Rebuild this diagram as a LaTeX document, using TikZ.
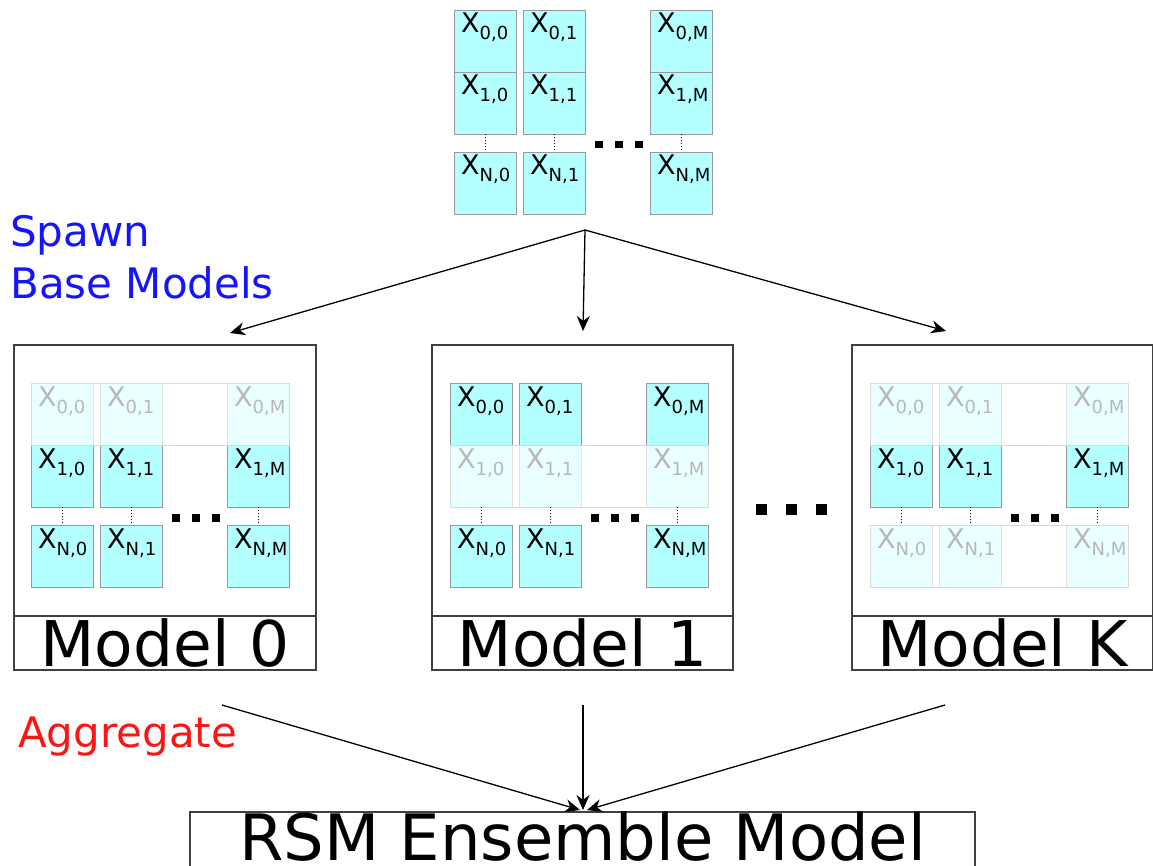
\documentclass[tikz,border=0pt]{standalone}
\usepackage{fontspec}
\setmainfont{DejaVu Sans}
\usetikzlibrary{arrows.meta}
\definecolor{cellfill}{RGB}{180,255,255}
\definecolor{spawnblue}{RGB}{20,20,255}
\definecolor{aggred}{RGB}{255,20,20}
\newcommand{\sbs}[1]{\raisebox{-7pt}{\fontsize{18}{18}\selectfont #1}}
\tikzset{
  cellbox/.style={rectangle, draw=gray!80, line width=0.9pt, fill=cellfill, inner sep=0pt, minimum width=62pt, minimum height=62pt},
  celltext/.style={inner sep=0pt, anchor=base west, font=\fontsize{27}{27}\selectfont},
  modelbox/.style={rectangle, draw=black!75, line width=1.6pt, inner sep=0pt},
  labelbox/.style={rectangle, draw=black!75, line width=1.6pt, inner sep=0pt, font=\fontsize{63}{63}\selectfont},
  arr/.style={-{Stealth[length=15pt,width=13pt]}, line width=1.3pt},
  fadeband/.style={fill=white, fill opacity=0.72, draw=gray!30, line width=0.8pt},
  dotsq/.style={fill=black},
}
\newcommand{\cellgrid}[3]{%
  \foreach \c/\cx in {0/0,1/69,M/196}{
    \foreach \r/\ry in {0/0,1/62,N/142}{
      \node[cellbox] (#1-\r-\c) at (#2+\cx+31, #3+\ry+31) {};
      \node[celltext] (#1-\r-\c-t) at (#2+\cx+7, #3+\ry+23) {X\sbs{\r,\c}};
    }
  }
}
\newcommand{\griddots}[3]{%
  \foreach \c in {0,1,M}{
    \draw[dotted, line width=1pt] (#1-1-\c.south) -- (#1-N-\c.north);
  }
  \foreach \k in {0,1,2}{
    \fill[dotsq] (#2+141+20*\k, #3+131) rectangle ++(7.5,7.5);
  }
}
\newcommand{\fadedrow}[2]{%
  \path[fadeband] (#1, #2) rectangle (#1+258, #2+62);
}
\begin{document}
\begin{tikzpicture}[x=1pt,y=-1pt]
\useasboundingbox (0,0) rectangle (1153,866);

% top data grid
\cellgrid{top}{454}{10}
\griddots{top}{454}{10}

% labels
\node[anchor=base west, inner sep=0pt, text=spawnblue, font=\fontsize{42}{42}\selectfont] (spawn1) at (10,247) {Spawn};
\node[anchor=base west, inner sep=0pt, text=spawnblue, font=\fontsize{42}{42}\selectfont] (spawn2) at (10,299) {Base Models};
\node[anchor=base west, inner sep=0pt, text=aggred, font=\fontsize{42}{42}\selectfont] (agg) at (18,747) {Aggregate};

% model boxes
\node[modelbox, minimum width=302pt, minimum height=271pt] (m0) at (165,480.5) {};
\node[labelbox, minimum width=302pt, minimum height=54pt] (m0l) at (165,643) {Model 0};
\node[modelbox, minimum width=301pt, minimum height=271pt] (m1) at (582.5,480.5) {};
\node[labelbox, minimum width=301pt, minimum height=54pt] (m1l) at (582.5,643) {Model 1};
\node[modelbox, minimum width=301pt, minimum height=271pt] (mK) at (1002.5,480.5) {};
\node[labelbox, minimum width=301pt, minimum height=54pt] (mKl) at (1002.5,643) {Model K};

% model 0 grid: row 0 faded
\cellgrid{a}{31}{383}
\fadedrow{31}{383}
\griddots{a}{31}{383}

% model 1 grid: row 1 faded
\cellgrid{b}{450}{383}
\fadedrow{450}{445}
\griddots{b}{450}{383}

% model K grid: rows 0 and N faded
\cellgrid{c}{870}{383}
\fadedrow{870}{383}
\fadedrow{870}{525}
\griddots{c}{870}{383}

% big dots between models
\foreach \k in {0,1,2}{
  \fill[dotsq] (756+30*\k, 504) rectangle ++(11,11);
}

% ensemble box
\draw[draw=black!75, line width=1.6pt] (190,812) rectangle (975,880);
\node[anchor=base, inner sep=0pt, font=\fontsize{64}{64}\selectfont] (rsm) at (582.5,860) {RSM Ensemble Model};

% spawn arrows
\coordinate (src) at (585,230);
\coordinate (t0) at (230,333);
\coordinate (t1) at (583,331);
\coordinate (tK) at (946,331);
\draw[arr] (src) -- (t0);
\draw[arr] (src) -- (t1);
\draw[arr] (src) -- (tK);

% aggregate arrows
\coordinate (s0) at (222,705);
\coordinate (s1) at (583,705);
\coordinate (sK) at (945,705);
\coordinate (e0) at (580,810);
\coordinate (e1) at (583,810);
\coordinate (eK) at (587,810);
\draw[arr] (s0) -- (e0);
\draw[arr] (s1) -- (e1);
\draw[arr] (sK) -- (eK);
\end{tikzpicture}
\end{document}
